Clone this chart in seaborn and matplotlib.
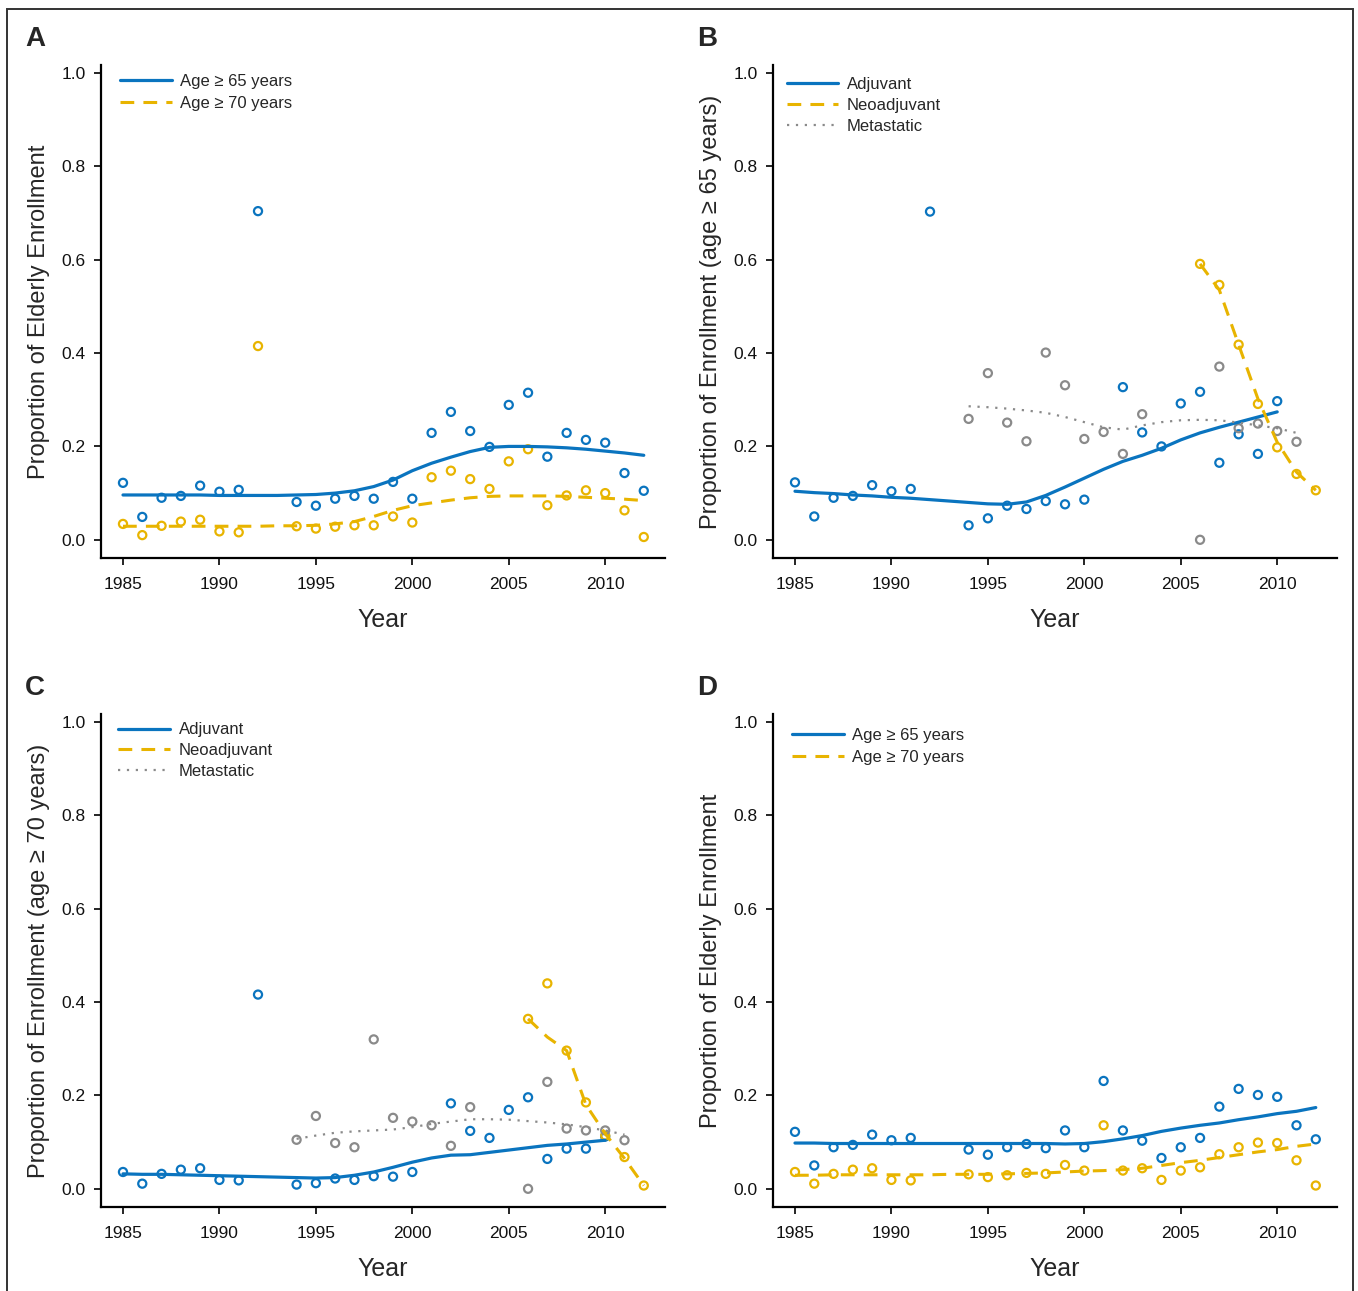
#! /usr/bin/env python3

# %% Setup
import pandas as pd
import matplotlib.pyplot as plt
import seaborn as sns
from matplotlib.patches import Rectangle

blue = "#0A74BF"
gold = "#E8B400"
grey = "#8A8A8A"

sns.set_theme(style="ticks")
plt.rcParams["font.family"] = ["Liberation Sans", "DejaVu Sans"]
narrow = ["Liberation Sans Narrow", "Liberation Sans", "DejaVu Sans"]

# %% Data
yrs_all = [1985, 1986, 1987, 1988, 1989, 1990, 1991, 1992,
           1994, 1995, 1996, 1997, 1998, 1999, 2000, 2001, 2002,
           2003, 2004, 2005, 2006, 2007, 2008, 2009, 2010, 2011, 2012]
yrs_no92 = [y for y in yrs_all if y != 1992]
yrs_adj = [1985, 1986, 1987, 1988, 1989, 1990, 1991, 1992,
           1994, 1995, 1996, 1997, 1998, 1999, 2000,
           2002, 2003, 2004, 2005, 2006, 2007, 2008, 2009, 2010]
yrs_met = [1994, 1995, 1996, 1997, 1998, 1999, 2000, 2001, 2002, 2003,
           2006, 2007, 2008, 2009, 2010, 2011]
yrs_neo = [2006, 2007, 2008, 2009, 2010, 2011, 2012]

fit_full = list(range(1985, 2013))
fit_adj = list(range(1985, 2011))
fit_met = list(range(1994, 2012))
fit_neo = list(range(2006, 2013))

# panel A
a_65 = [0.122, 0.049, 0.090, 0.094, 0.116, 0.103, 0.107, 0.704,
        0.081, 0.073, 0.088, 0.094, 0.088, 0.124, 0.088, 0.229, 0.274,
        0.233, 0.199, 0.289, 0.315, 0.178, 0.229, 0.214, 0.208, 0.143, 0.105]
a_70 = [0.034, 0.010, 0.030, 0.039, 0.043, 0.018, 0.016, 0.415,
        0.029, 0.024, 0.028, 0.031, 0.031, 0.050, 0.037, 0.134, 0.148,
        0.130, 0.109, 0.168, 0.194, 0.074, 0.095, 0.106, 0.100, 0.063, 0.006]
a_65_fit = [0.096, 0.096, 0.096, 0.096, 0.096, 0.095, 0.095, 0.095, 0.095, 0.096,
            0.097, 0.100, 0.105, 0.114, 0.128, 0.148, 0.164, 0.177, 0.189, 0.198,
            0.200, 0.200, 0.199, 0.197, 0.194, 0.190, 0.186, 0.181]
a_70_fit = [0.029, 0.029, 0.029, 0.029, 0.029, 0.029, 0.029, 0.029, 0.030, 0.030,
            0.031, 0.034, 0.039, 0.050, 0.063, 0.073, 0.079, 0.085, 0.090, 0.093,
            0.094, 0.094, 0.094, 0.093, 0.091, 0.089, 0.087, 0.084]

# panel B (age >= 65)
b_adj = [0.123, 0.050, 0.090, 0.094, 0.117, 0.104, 0.109, 0.703,
         0.031, 0.046, 0.073, 0.066, 0.083, 0.076, 0.086,
         0.327, 0.230, 0.200, 0.292, 0.317, 0.165, 0.226, 0.184, 0.297]
b_met = [0.259, 0.357, 0.251, 0.211, 0.401, 0.331, 0.216, 0.231, 0.184, 0.269,
         0.000, 0.371, 0.239, 0.249, 0.233, 0.210]
b_neo = [0.591, 0.546, 0.418, 0.291, 0.198, 0.141, 0.106]
b_adj_fit = [0.104, 0.101, 0.099, 0.096, 0.094, 0.091, 0.089, 0.086, 0.083, 0.080,
             0.077, 0.076, 0.081, 0.095, 0.113, 0.132, 0.151, 0.168, 0.181, 0.196,
             0.214, 0.229, 0.241, 0.252, 0.263, 0.274]
b_met_fit = [0.286, 0.284, 0.281, 0.277, 0.272, 0.263, 0.252, 0.241, 0.236,
             0.245, 0.252, 0.256, 0.257, 0.256, 0.251, 0.245, 0.239, 0.229]
b_neo_fit = [0.591, 0.535, 0.418, 0.302, 0.209, 0.145, 0.106]

# panel C (age >= 70)
c_adj = [0.036, 0.011, 0.032, 0.041, 0.044, 0.019, 0.018, 0.416,
         0.009, 0.012, 0.022, 0.019, 0.027, 0.026, 0.036,
         0.183, 0.124, 0.109, 0.169, 0.196, 0.064, 0.086, 0.086, 0.112]
c_met = [0.105, 0.156, 0.098, 0.089, 0.320, 0.152, 0.144, 0.136, 0.092, 0.175,
         0.000, 0.229, 0.129, 0.125, 0.125, 0.104]
c_neo = [0.364, 0.440, 0.296, 0.185, 0.114, 0.068, 0.007]
c_adj_fit = [0.032, 0.031, 0.031, 0.030, 0.029, 0.028, 0.027, 0.026, 0.025, 0.024,
             0.023, 0.024, 0.029, 0.036, 0.046, 0.057, 0.066, 0.072, 0.073, 0.078,
             0.083, 0.088, 0.093, 0.096, 0.100, 0.104]
c_met_fit = [0.107, 0.114, 0.120, 0.123, 0.125, 0.127, 0.132, 0.139, 0.144,
             0.149, 0.149, 0.148, 0.145, 0.142, 0.138, 0.132, 0.125, 0.116]
c_neo_fit = [0.364, 0.325, 0.296, 0.180, 0.118, 0.065, 0.007]

# panel D (1992 outlier removed)
d_65 = [0.122, 0.050, 0.089, 0.094, 0.116, 0.104, 0.109,
        0.084, 0.073, 0.089, 0.096, 0.087, 0.125, 0.089, 0.231, 0.125,
        0.103, 0.066, 0.089, 0.109, 0.176, 0.214, 0.201, 0.197, 0.136, 0.106]
d_70 = [0.036, 0.011, 0.032, 0.041, 0.044, 0.019, 0.018,
        0.031, 0.025, 0.029, 0.034, 0.032, 0.051, 0.039, 0.136, 0.039,
        0.044, 0.019, 0.039, 0.046, 0.074, 0.089, 0.099, 0.098, 0.061, 0.007]
d_65_fit = [0.098, 0.098, 0.097, 0.097, 0.097, 0.097, 0.097, 0.097, 0.097, 0.097,
            0.097, 0.097, 0.097, 0.097, 0.096, 0.097, 0.101, 0.107, 0.114, 0.123,
            0.130, 0.136, 0.141, 0.148, 0.154, 0.161, 0.166, 0.174]
d_70_fit = [0.029, 0.029, 0.030, 0.030, 0.030, 0.030, 0.030, 0.030, 0.031, 0.031,
            0.031, 0.032, 0.033, 0.034, 0.036, 0.038, 0.039, 0.041, 0.044, 0.050,
            0.056, 0.061, 0.067, 0.073, 0.079, 0.084, 0.091, 0.096]

lab65 = "Age \u2265 65 years"
lab70 = "Age \u2265 70 years"
styles = {
    "solid": dict(color=blue, linewidth=2.3, linestyle="-"),
    "dash": dict(color=gold, linewidth=2.2, linestyle=(0, (4.5, 3))),
    "dot": dict(color=grey, linewidth=1.6, linestyle=(0, (1, 3.0))),
}

# %% Figure
W, H = 1358, 1291
fig = plt.figure(figsize=(W / 100, H / 100), dpi=100)


def panel(left, top, letter, ylabel, series, leg_xy, spacing):
    ax = fig.add_axes([left / W, 1 - (top + 493) / H, 564 / W, 493 / H])
    for yrs, vals, fx, fy, col, sty, lab in series:
        sns.scatterplot(x=yrs, y=vals, ax=ax, s=34, facecolor="none",
                        edgecolor=col, linewidth=1.6, zorder=3)
        sns.lineplot(x=fx, y=fy, ax=ax, label=lab, zorder=4, **styles[sty])
    ax.set_xlim(1983.86, 2013.1)
    ax.set_ylim(-0.039, 1.017)
    ax.set_xticks([1985, 1990, 1995, 2000, 2005, 2010])
    ax.set_yticks([0.0, 0.2, 0.4, 0.6, 0.8, 1.0])
    ax.set_yticklabels(["0.0", "0.2", "0.4", "0.6", "0.8", "1.0"])
    ax.tick_params(labelsize=12.5, length=5, width=1.2, color="black",
                   labelcolor="#111111")
    ax.tick_params(axis="x", pad=9)
    ax.tick_params(axis="y", pad=6)
    for s in ["top", "right"]:
        ax.spines[s].set_visible(False)
    for s in ["left", "bottom"]:
        ax.spines[s].set_linewidth(1.6)
        ax.spines[s].set_color("black")
    ax.set_xlabel("Year", fontsize=18, family=narrow, labelpad=11)
    ax.set_ylabel(ylabel, fontsize=17, family=narrow, labelpad=8)
    ax.legend(loc="upper left", bbox_to_anchor=leg_xy, frameon=False,
              fontsize=12, handlelength=3.1, handletextpad=0.5,
              labelspacing=spacing, borderpad=0, borderaxespad=0)
    fig.text((left - 76) / W, 1 - (top - 26) / H, letter, fontsize=20,
             fontweight="bold", va="center", ha="left")
    return ax


y65 = "Proportion of Enrollment (age \u2265 65 years)"
y70 = "Proportion of Enrollment (age \u2265 70 years)"
yeld = "Proportion of Elderly Enrollment"

panel(101, 65, "A", yeld, [
    (yrs_all, a_65, fit_full, a_65_fit, blue, "solid", lab65),
    (yrs_all, a_70, fit_full, a_70_fit, gold, "dash", lab70),
], (0.034, 0.982), 0.43)

panel(773, 65, "B", y65, [
    (yrs_adj, b_adj, fit_adj, b_adj_fit, blue, "solid", "Adjuvant"),
    (yrs_neo, b_neo, fit_neo, b_neo_fit, gold, "dash", "Neoadjuvant"),
    (yrs_met, b_met, fit_met, b_met_fit, grey, "dot", "Metastatic"),
], (0.024, 0.975), 0.34)

panel(101, 714, "C", y70, [
    (yrs_adj, c_adj, fit_adj, c_adj_fit, blue, "solid", "Adjuvant"),
    (yrs_neo, c_neo, fit_neo, c_neo_fit, gold, "dash", "Neoadjuvant"),
    (yrs_met, c_met, fit_met, c_met_fit, grey, "dot", "Metastatic"),
], (0.031, 0.983), 0.34)

panel(773, 714, "D", yeld, [
    (yrs_no92, d_65, fit_full, d_65_fit, blue, "solid", lab65),
    (yrs_no92, d_70, fit_full, d_70_fit, gold, "dash", lab70),
], (0.034, 0.972), 0.43)

# outer frame of the figure (open at the bottom edge)
fig.add_artist(Rectangle((7 / W, -0.05), (1353 - 7) / W, 1.05 - 9 / H,
                         transform=fig.transFigure, fill=False,
                         linewidth=1.4, edgecolor="#333333"))

plt.savefig("out.png", dpi=100)
